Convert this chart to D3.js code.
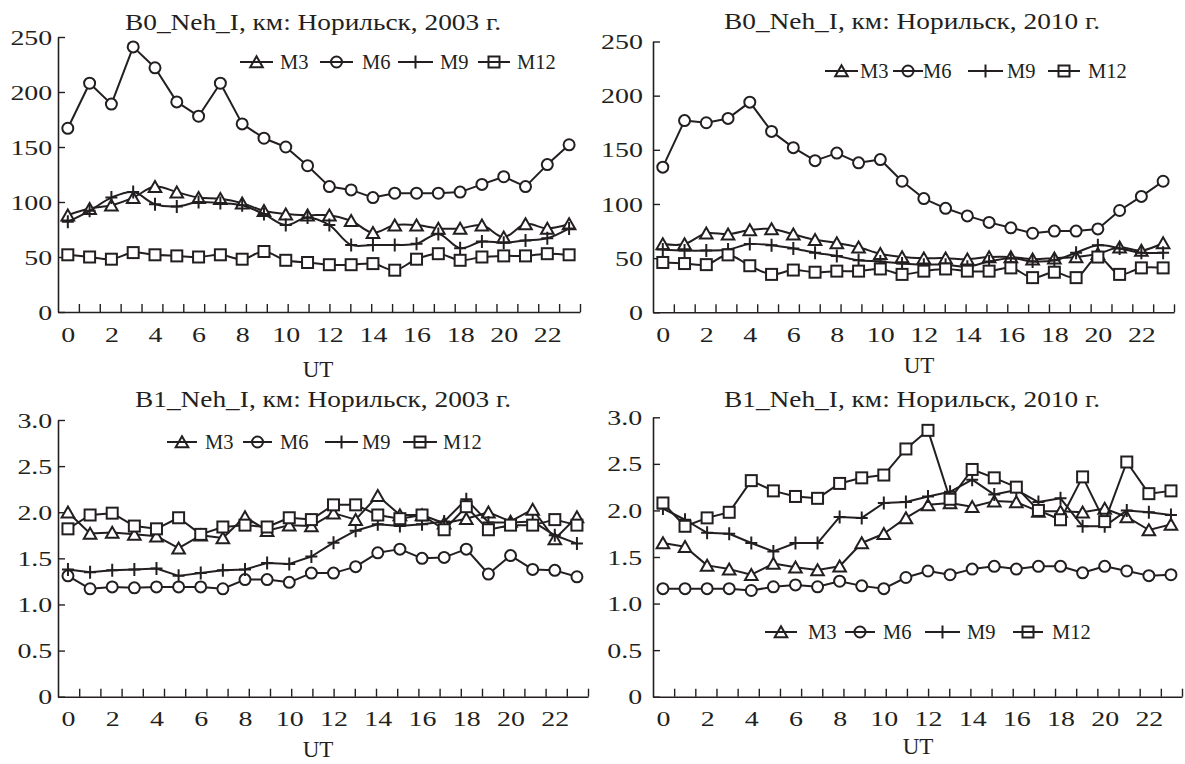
<!DOCTYPE html>
<html>
<head>
<meta charset="utf-8">
<script src="https://cdn.jsdelivr.net/npm/d3@7"></script>
<style>
  html, body { margin: 0; padding: 0; background: #ffffff; }
  svg { display: block; }
</style>
</head>
<body>
<svg id="chart" width="1185" height="764"></svg>
<script>
// Hour of day (UT) and the labelled hours on the x axis
const ut = [0, 1, 2, 3, 4, 5, 6, 7, 8, 9, 10, 11, 12, 13, 14, 15, 16, 17, 18, 19, 20, 21, 22, 23];
const utLabels = [0, 2, 4, 6, 8, 10, 12, 14, 16, 18, 20, 22];
const seriesNames = ["M3", "M6", "M9", "M12"];
const b0Ticks = [0, 50, 100, 150, 200, 250];
const b1Ticks = [0, 0.5, 1.0, 1.5, 2.0, 2.5, 3.0];

// B0 (km), Norilsk 2003
const b0_2003_m3  = [88, 94, 97, 104, 114, 109, 104, 103, 99, 92, 89, 88, 88, 83, 72, 79, 79, 76, 76, 79, 68, 80, 76, 80];
const b0_2003_m6  = [167, 208, 189, 241, 222, 191, 178, 208, 171, 158, 150, 133, 114, 111, 104, 108, 108, 108, 109, 116, 123, 114, 134, 152];
const b0_2003_m9  = [82, 92, 104, 109, 98, 96, 100, 99, 97, 89, 79, 86, 79, 61, 61, 61, 62, 71, 58, 64, 63, 65, 67, 76];
const b0_2003_m12 = [52, 50, 48, 54, 52, 51, 50, 52, 48, 55, 47, 45, 43, 43, 44, 38, 48, 53, 47, 50, 51, 51, 53, 52];

// B0 (km), Norilsk 2010
const b0_2010_m3  = [63, 63, 73, 72, 76, 77, 72, 67, 64, 60, 54, 51, 50, 50, 49, 51, 51, 49, 50, 51, 54, 60, 57, 64];
const b0_2010_m6  = [134, 177, 175, 179, 194, 167, 152, 140, 147, 138, 141, 121, 105, 96, 89, 83, 78, 73, 75, 75, 77, 94, 107, 121];
const b0_2010_m9  = [58, 57, 57, 58, 63, 62, 59, 55, 52, 48, 47, 45, 44, 44, 42, 47, 50, 47, 48, 55, 62, 59, 55, 55];
const b0_2010_m12 = [46, 45, 44, 53, 43, 35, 39, 37, 38, 38, 40, 35, 38, 40, 38, 38, 41, 32, 37, 32, 51, 35, 41, 41];

// B1, Norilsk 2003
const b1_2003_m3  = [2.00, 1.77, 1.78, 1.76, 1.74, 1.61, 1.75, 1.72, 1.95, 1.80, 1.86, 1.85, 1.99, 1.92, 2.18, 1.97, 1.97, 1.88, 1.93, 2.00, 1.90, 2.03, 1.71, 1.95];
const b1_2003_m6  = [1.31, 1.17, 1.19, 1.18, 1.19, 1.19, 1.19, 1.17, 1.27, 1.27, 1.24, 1.34, 1.34, 1.41, 1.56, 1.60, 1.50, 1.51, 1.60, 1.33, 1.53, 1.38, 1.37, 1.30];
const b1_2003_m9  = [1.38, 1.35, 1.37, 1.38, 1.39, 1.31, 1.34, 1.37, 1.38, 1.45, 1.44, 1.52, 1.67, 1.80, 1.87, 1.85, 1.87, 1.90, 2.14, 1.89, 1.89, 1.90, 1.75, 1.66];
const b1_2003_m12 = [1.82, 1.97, 1.99, 1.85, 1.82, 1.94, 1.76, 1.84, 1.86, 1.84, 1.94, 1.92, 2.08, 2.08, 1.97, 1.93, 1.97, 1.81, 2.06, 1.81, 1.86, 1.86, 1.92, 1.86];

// B1, Norilsk 2010
const b1_2010_m3  = [1.65, 1.61, 1.41, 1.37, 1.31, 1.43, 1.39, 1.36, 1.40, 1.65, 1.75, 1.92, 2.06, 2.08, 2.04, 2.10, 2.09, 1.99, 1.99, 1.98, 2.02, 1.93, 1.79, 1.85];
const b1_2010_m6  = [1.16, 1.16, 1.16, 1.16, 1.14, 1.18, 1.20, 1.18, 1.24, 1.19, 1.16, 1.28, 1.35, 1.31, 1.37, 1.40, 1.37, 1.40, 1.40, 1.33, 1.40, 1.35, 1.30, 1.31];
const b1_2010_m9  = [2.02, 1.90, 1.76, 1.75, 1.65, 1.56, 1.65, 1.65, 1.93, 1.92, 2.08, 2.09, 2.15, 2.20, 2.33, 2.17, 2.22, 2.09, 2.13, 1.83, 1.83, 2.00, 1.98, 1.95];
const b1_2010_m12 = [2.08, 1.83, 1.92, 1.98, 2.32, 2.21, 2.15, 2.13, 2.29, 2.35, 2.38, 2.66, 2.86, 2.12, 2.44, 2.35, 2.25, 2.00, 1.90, 2.36, 1.88, 2.52, 2.18, 2.21];

const INK = "#231f20";
const SERIF = "'Liberation Serif', 'Times New Roman', serif";
const markerKinds = ["triangle", "circle", "plus", "square"];

const fmtB0 = d => String(d);
const fmtB1 = d => d === 0 ? "0" : d.toFixed(1);

const panels = [
  {
    title: "B0_Neh_I, км: Норильск, 2003 г.",
    data: [b0_2003_m3, b0_2003_m6, b0_2003_m9, b0_2003_m12],
    yMax: 250, yTicks: b0Ticks, yFormat: fmtB0, smooth: [true, false, true, true],
    ax0: 58, ax1: 580, yBase: 312, yTop: 37, labelGap: 4.5,
    titleX: 313, titleY: 30, tickPad: 14.5, utX: 318, utY: 377,
    legendY: 62, legend: [[240, 273, 280], [320, 353, 362], [398, 433, 440], [478, 510, 517]]
  },
  {
    title: "B0_Neh_I, км: Норильск, 2010 г.",
    data: [b0_2010_m3, b0_2010_m6, b0_2010_m9, b0_2010_m12],
    yMax: 250, yTicks: b0Ticks, yFormat: fmtB0, smooth: [true, false, true, true],
    ax0: 653, ax1: 1174, yBase: 312.3, yTop: 41.5, labelGap: 8,
    titleX: 912, titleY: 29, tickPad: 14.5, utX: 919, utY: 373,
    legendY: 71, legend: [[825, 858, 860], [893, 923, 923], [968, 1003, 1007], [1048, 1080, 1088]]
  },
  {
    title: "B1_Neh_I, км: Норильск, 2003 г.",
    data: [b1_2003_m3, b1_2003_m6, b1_2003_m9, b1_2003_m12],
    yMax: 3, yTicks: b1Ticks, yFormat: fmtB1, smooth: [false, false, false, false],
    ax0: 58, ax1: 588, yBase: 696.7, yTop: 420, labelGap: 4.5,
    titleX: 323, titleY: 407, tickPad: 14, utX: 318, utY: 757,
    legendY: 442, legend: [[167, 197, 205], [243, 272, 280], [325, 358, 362], [403, 437, 443]]
  },
  {
    title: "B1_Neh_I, км: Норильск, 2010 г.",
    data: [b1_2010_m3, b1_2010_m6, b1_2010_m9, b1_2010_m12],
    yMax: 3, yTicks: b1Ticks, yFormat: fmtB1, smooth: [false, false, false, false],
    ax0: 653, ax1: 1182, yBase: 696.7, yTop: 417.3, labelGap: 8.5,
    titleX: 912, titleY: 407, tickPad: 14, utX: 918, utY: 754,
    legendY: 632, legend: [[765, 797, 808], [845, 875, 883], [925, 960, 967], [1013, 1043, 1052]]
  }
];

const svg = d3.select("#chart");

// Hollow marker shapes centred on (cx, cy)
function drawMarker(g, kind, cx, cy, fill) {
  const common = sel => sel.attr("stroke", INK).attr("stroke-width", 2).attr("fill", fill);
  if (kind === "circle") {
    g.append("circle").attr("cx", cx).attr("cy", cy).attr("r", 5.5).call(common);
  } else if (kind === "square") {
    g.append("rect").attr("x", cx - 5.5).attr("y", cy - 5.5).attr("width", 11).attr("height", 11).call(common);
  } else if (kind === "triangle") {
    g.append("path")
      .attr("d", `M${cx - 6.3},${cy + 5.3}L${cx + 6.3},${cy + 5.3}L${cx},${cy - 5.7}Z`)
      .attr("stroke-linejoin", "miter").call(common);
  } else {
    g.append("path")
      .attr("d", `M${cx - 6},${cy}H${cx + 6}M${cx},${cy - 6.5}V${cy + 6.5}`)
      .call(common).attr("fill", "none");
  }
}

panels.forEach(p => {
  const g = svg.append("g");
  const x = d3.scaleLinear().domain([-0.45, 23.5]).range([p.ax0, p.ax1]);
  const y = d3.scaleLinear().domain([0, p.yMax]).range([p.yBase, p.yTop]);

  // y axis: inward ticks, widened serif numerals
  const yAxis = g.append("g")
    .attr("transform", `translate(${p.ax0},0)`)
    .call(d3.axisLeft(y).tickValues(p.yTicks).tickFormat(p.yFormat)
      .tickSizeInner(-7).tickSizeOuter(0).tickPadding(p.labelGap));
  yAxis.select(".domain").attr("stroke", INK).attr("stroke-width", 1.6);
  yAxis.selectAll(".tick line").attr("stroke", INK).attr("stroke-width", 1.4);
  yAxis.selectAll(".tick text")
    .attr("fill", INK).style("font-family", SERIF).style("font-size", "22px")
    .attr("transform", "scale(1.27,1)");

  // x axis line with 25 evenly spaced inward tick marks
  const div = d3.scaleLinear().domain([0, 25]).range([p.ax0, p.ax1]);
  const xTicks = g.append("g")
    .attr("transform", `translate(0,${p.yBase})`)
    .call(d3.axisBottom(div).tickValues(d3.range(1, 26)).tickFormat("")
      .tickSizeInner(-8).tickSizeOuter(0));
  xTicks.select(".domain").attr("stroke", INK).attr("stroke-width", 1.6);
  xTicks.selectAll(".tick line").attr("stroke", INK).attr("stroke-width", 1.4);

  // hour labels at even hours
  const xLab = g.append("g")
    .attr("transform", `translate(0,${p.yBase})`)
    .call(d3.axisBottom(x).tickValues(utLabels).tickSize(0).tickPadding(p.tickPad));
  xLab.select(".domain").remove();
  xLab.selectAll(".tick text")
    .attr("fill", INK).style("font-family", SERIF).style("font-size", "22px")
    .attr("transform", "scale(1.27,1)");

  // axis title
  g.append("text")
    .attr("x", p.utX).attr("y", p.utY)
    .attr("text-anchor", "middle").attr("fill", INK)
    .style("font-family", SERIF).style("font-size", "23px")
    .text("UT");

  // panel title
  g.append("text")
    .attr("transform", `translate(${p.titleX},${p.titleY}) scale(1.14,1)`)
    .attr("text-anchor", "middle").attr("fill", INK)
    .style("font-family", SERIF).style("font-size", "24px")
    .text(p.title);

  // series: line, then markers on top
  p.data.forEach((vals, si) => {
    const line = d3.line()
      .x((d, i) => x(ut[i]))
      .y(d => y(d))
      .curve(p.smooth[si] ? d3.curveCatmullRom.alpha(0.5) : d3.curveLinear);
    g.append("path")
      .datum(vals)
      .attr("d", line)
      .attr("fill", "none")
      .attr("stroke", INK)
      .attr("stroke-width", 2)
      .attr("stroke-linejoin", "round");
    const mg = g.append("g");
    vals.forEach((v, i) => drawMarker(mg, markerKinds[si], x(ut[i]), y(v), "#ffffff"));
  });

  // legend
  const lg = g.append("g");
  p.legend.forEach((item, si) => {
    const [l0, l1, tx] = item;
    lg.append("line")
      .attr("x1", l0).attr("x2", l1).attr("y1", p.legendY).attr("y2", p.legendY)
      .attr("stroke", INK).attr("stroke-width", 2);
    drawMarker(lg, markerKinds[si], (l0 + l1) / 2, p.legendY, "none");
    lg.append("text")
      .attr("x", tx).attr("y", p.legendY + 7)
      .attr("fill", INK)
      .style("font-family", SERIF).style("font-size", "20.5px")
      .text(seriesNames[si]);
  });
});
</script>
</body>
</html>
